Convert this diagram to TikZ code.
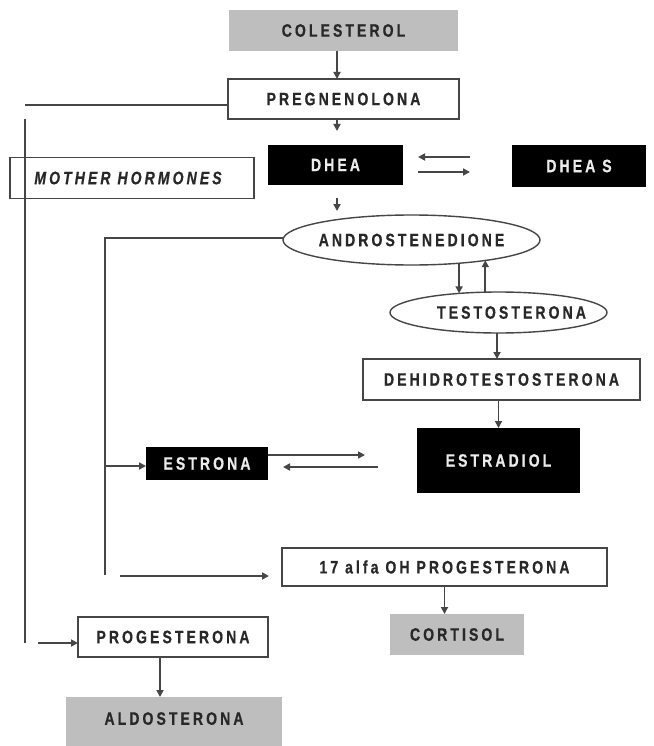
\documentclass[tikz,border=0pt]{standalone}
\usepackage{fontspec}
\setmainfont{Liberation Sans}
\newfontfamily\labfont{Liberation Sans}[LetterSpace=17,FakeStretch=0.78,FakeBold=0.6]
\usetikzlibrary{shapes.geometric,arrows.meta}
\definecolor{greyfill}{RGB}{190,190,190}
\definecolor{linec}{RGB}{70,70,70}
\definecolor{textc}{RGB}{40,40,40}
\tikzset{
  lab/.style={font=\labfont\bfseries\fontsize{18}{20}\selectfont, text=textc, inner sep=0pt, outer sep=0pt},
  wbox/.style={lab, draw=linec, line width=1.6pt, fill=white},
  gbox/.style={lab, fill=greyfill},
  bbox/.style={lab, fill=black, text=white!92!black},
  ell/.style={lab, ellipse, draw=linec, line width=1.4pt, fill=white},
  ln/.style={draw=linec, line width=1.7pt},
  arr/.style={ln, -{Triangle[length=7pt,width=7pt]}}
}
\begin{document}
\begin{tikzpicture}[x=1pt,y=-1pt]
\useasboundingbox (0,0) rectangle (653,746);
\fill[white] (0,0) rectangle (653,746);
% nodes
\node[gbox, minimum width=229pt, minimum height=41pt] (colesterol) at (343.5,30.5) {COLESTEROL};
\node[wbox, minimum width=231pt, minimum height=40pt] (pregnenolona) at (343.5,99) {PREGNENOLONA};
\node[wbox, minimum width=244pt, minimum height=41pt, font=\labfont\bfseries\itshape\fontsize{18}{20}\selectfont] (mother) at (132,178) {MOTHER HORMONES\hspace*{8pt}};
\node[bbox, minimum width=135pt, minimum height=40pt] (dhea) at (335.5,165) {DHEA};
\node[bbox, minimum width=134pt, minimum height=42pt] (dheas) at (579,166) {DHEA S};
\node[ell, minimum width=257pt, minimum height=50pt] (andro) at (411.5,240) {\makebox[0pt]{ANDROSTENEDIONE}};
\node[ell, minimum width=217pt, minimum height=41pt] (testo) at (498.5,312.5) {\hspace*{26pt}\makebox[0pt]{TESTOSTERONA}};
\node[wbox, minimum width=277pt, minimum height=41pt] (dht) at (501.5,379.5) {DEHIDROTESTOSTERONA};
\node[bbox, minimum width=163pt, minimum height=65pt] (estradiol) at (498.5,460.5) {\raisebox{-7pt}{ESTRADIOL}};
\node[bbox, minimum width=122pt, minimum height=33pt] (estrona) at (207,463.5) {ESTRONA};
\node[wbox, minimum width=325pt, minimum height=38pt] (oh17) at (444.5,567) {17 alfa OH PROGESTERONA};
\node[gbox, minimum width=134pt, minimum height=41pt] (cortisol) at (457,634.5) {CORTISOL};
\node[wbox, minimum width=190pt, minimum height=40pt] (progesterona) at (173,637) {PROGESTERONA};
\node[gbox, minimum width=216pt, minimum height=49pt] (aldosterona) at (174,721.5) {\raisebox{6pt}{ALDOSTERONA}};
% free ends
\coordinate (pregA) at (337,131);
\coordinate (pl) at (25,105);
\coordinate (vt) at (25,119);
\coordinate (vb) at (25,643);
\coordinate (pa) at (38,643);
\coordinate (dsL1) at (470,157);
\coordinate (dsL2) at (418,157);
\coordinate (dsR1) at (418,172);
\coordinate (dsR2) at (470,172);
\coordinate (dheaA1) at (337,198);
\coordinate (dheaA2) at (337,211);
\coordinate (ab) at (105,575);
\coordinate (eb) at (105,466);
\coordinate (eR2) at (365,455);
\coordinate (eL1) at (378,467);
\coordinate (eL2) at (283,467);
\coordinate (oA1) at (120,576);
\coordinate (oA2) at (269,576);
% connectors
\draw[arr] ([xshift=-6.5pt]colesterol.south) -- ([xshift=-6.5pt]pregnenolona.north);
\draw[arr] ([xshift=-6.5pt]pregnenolona.south) -- (pregA);
\draw[ln] ([yshift=-6pt]pregnenolona.west) -- (pl);
\draw[ln] (vt) -- (vb);
\draw[arr] (pa) -- (pa -| progesterona.west);
\draw[arr] (dsL1) -- (dsL2);
\draw[arr] (dsR1) -- (dsR2);
\draw[arr] (dheaA1) -- (dheaA2);
\draw[ln] ([yshift=2pt]andro.west) -| (ab);
\draw[arr] (eb) -- (eb -| estrona.west);
\draw[arr] (andro.-26.6) -- (andro.-26.6 |- testo.154.9);
\draw[arr] (testo.123.6) -- (testo.123.6 |- andro.-15.6);
\draw[arr] ([xshift=-1.5pt]testo.south) -- ([xshift=-1.5pt]testo.south |- dht.north);
\draw[arr] (estradiol.north |- dht.south) -- (estradiol.north);
\draw[arr] (estrona.east |- eR2) -- (eR2);
\draw[arr] (eL1) -- (eL2);
\draw[arr] (oA1) -- (oA2);
\draw[arr] (oh17.south) -- (oh17.south |- cortisol.north);
\draw[arr] ([xshift=-13pt]progesterona.south) -- ([xshift=-13pt]progesterona.south |- aldosterona.north);
\end{tikzpicture}
\end{document}
